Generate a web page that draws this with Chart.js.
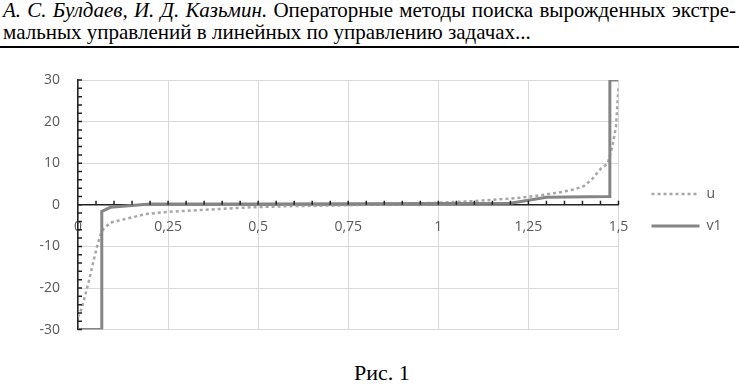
<!DOCTYPE html>
<html>
<head>
<meta charset="utf-8">
<script src="https://cdn.jsdelivr.net/npm/chart.js@4"></script>
<style>
  body { margin: 0; width: 739px; height: 385px; background: #fff; position: relative; overflow: hidden; }
  .hdr { position: absolute; left: 3px; width: 733px; font-family: "Liberation Serif", serif; font-size: 21px; color: #000; white-space: nowrap; }
  .l1 { top: -2px; text-align: justify; text-align-last: justify; }
  .l2 { top: 20px; }
  .rule { position: absolute; left: 0; top: 46px; width: 739px; height: 2px; background: #000; }
  #wrap { position: absolute; left: 0; top: 50px; width: 739px; height: 306px; }
  .cap { position: absolute; left: 354px; top: 360px; font-family: "Liberation Serif", serif; font-size: 22px; }
</style>
</head>
<body>
<div class="hdr l1"><i>А. С. Булдаев, И. Д. Казьмин.</i> Операторные методы поиска вырожденных экстре-</div>
<div class="hdr l2">мальных управлений в линейных по управлению задачах...</div>
<div class="rule"></div>
<div id="wrap"><canvas id="grafico"></canvas></div>
<div class="cap">Рис. 1</div>
<script>
// valores
const uX = [0, 0.01, 0.03, 0.043, 0.057, 0.066, 0.089, 0.136, 0.19, 0.25, 0.35, 0.48, 0.6, 0.75, 0.9, 1.0, 1.1, 1.2, 1.25, 1.3, 1.344, 1.376, 1.404, 1.428, 1.451, 1.47, 1.483, 1.493, 1.5];
const uY = [-27, -25, -18.4, -13.5, -8.7, -6.3, -4.3, -3.3, -2.2, -1.7, -1.2, -0.6, -0.3, -0.1, 0.2, 0.5, 0.9, 1.5, 1.9, 2.5, 3.1, 3.7, 4.5, 6.3, 8.7, 9.9, 14, 18.8, 28.4];
const v1X = [0, 0.066, 0.066, 0.09, 0.2, 0.5, 1.0, 1.2, 1.3, 1.474, 1.476, 1.5];
const v1Y = [-30, -30, -1.6, -0.6, 0.2, 0.2, 0.3, 0.4, 1.8, 2, 30, 30];
const xTicks = [0, 0.25, 0.5, 0.75, 1, 1.25, 1.5];
const yTicks = [-30, -20, -10, 0, 10, 20, 30];

const ctxGrafico = document.getElementById('grafico');

// marcas menores sobre los ejes
const marcasMenores = {
    id: 'marcasMenores',
    afterDraw(chart) {
        const { ctx, scales: { x, y } } = chart;
        const y0 = y.getPixelForValue(0);
        ctx.save();
        ctx.strokeStyle = '#222';
        ctx.lineWidth = 1.5;
        ctx.beginPath();
        for (let i = 1; i <= 30; i++) {
            const px = x.getPixelForValue(i * 0.05);
            ctx.moveTo(px, y0);
            ctx.lineTo(px, y0 - 4);
        }
        for (let v = -30; v <= 30; v += 2) {
            const py = y.getPixelForValue(v);
            ctx.moveTo(x.left, py);
            ctx.lineTo(x.left + 4, py);
        }
        ctx.stroke();
        ctx.restore();
    }
};

new Chart(ctxGrafico, {
    type: 'line',
    data: {
        datasets: [{
            label: 'u',
            data: uX.map((x, i) => ({ x: x, y: uY[i] })),
            borderColor: '#a6a6a6',
            borderWidth: 2.5,
            borderDash: [3, 3],
            pointRadius: 0,
            tension: 0,
            order: 1
        }, {
            label: 'v1',
            data: v1X.map((x, i) => ({ x: x, y: v1Y[i] })),
            borderColor: '#858585',
            borderWidth: 3,
            pointRadius: 0,
            tension: 0,
            order: 0
        }]
    },
    options: {
        responsive: true,
        maintainAspectRatio: false,
        animation: false,
        layout: { padding: { top: 30, bottom: 16, left: 0, right: 7.5 } },
        plugins: {
            tooltip: { enabled: false },
            legend: {
                position: 'right',
                labels: {
                    usePointStyle: true,
                    pointStyle: 'line',
                    pointStyleWidth: 48,
                    padding: 18,
                    color: '#595959',
                    font: { family: 'Open Sans', size: 14 },
                    sort: (a, b) => a.datasetIndex - b.datasetIndex,
                    generateLabels: (chart) => {
                        const items = Chart.defaults.plugins.legend.labels.generateLabels(chart);
                        items.forEach(it => {
                            const ds = chart.data.datasets[it.datasetIndex];
                            it.lineDash = ds.borderDash || [];
                            it.lineWidth = ds.borderWidth;
                            it.strokeStyle = ds.borderColor;
                        });
                        return items;
                    }
                }
            }
        },
        scales: {
            x: {
                type: 'linear',
                position: { y: 0 },
                min: 0,
                max: 1.5,
                afterBuildTicks: (s) => { s.ticks = xTicks.map(v => ({ value: v })); },
                ticks: {
                    color: '#595959',
                    font: { family: 'Open Sans', size: 14 },
                    padding: 14,
                    maxRotation: 0,
                    callback: (v) => String(v).replace('.', ',')
                },
                grid: { color: '#d9d9d9', drawTicks: false },
                border: { color: '#222', width: 1.5 }
            },
            y: {
                min: -30,
                max: 30,
                afterBuildTicks: (s) => { s.ticks = yTicks.map(v => ({ value: v })); },
                afterFit: (s) => { s.width = 78; },
                ticks: {
                    color: '#595959',
                    font: { family: 'Open Sans', size: 14 },
                    padding: 18
                },
                grid: { color: '#d9d9d9', drawTicks: false },
                border: { color: '#222', width: 1.5 }
            },
            hueco: {
                type: 'linear',
                position: 'right',
                display: true,
                ticks: { display: false },
                grid: { display: false },
                border: { display: false },
                afterFit: (s) => { s.width = 15; }
            }
        }
    },
    plugins: [marcasMenores]
});
</script>
</body>
</html>
